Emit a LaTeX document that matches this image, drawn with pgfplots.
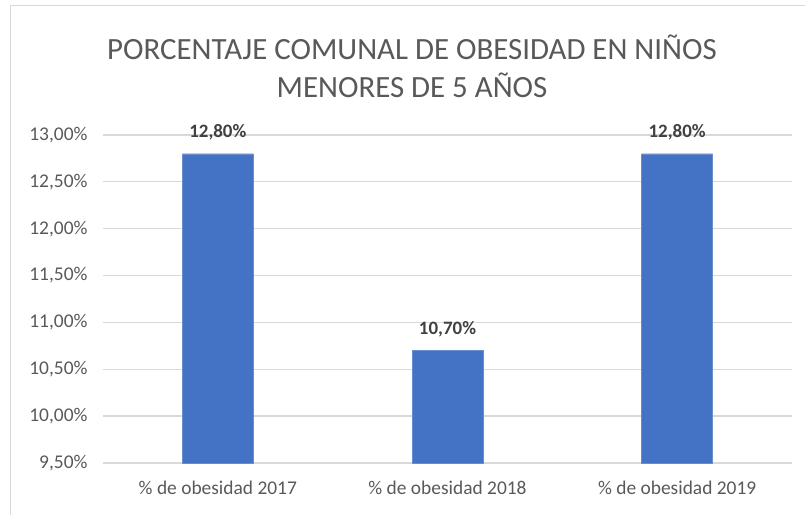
\documentclass[border=0pt]{standalone}
\usepackage{pgfplots}
\pgfplotsset{compat=1.18}
\usepackage{fontspec}
\setmainfont{Carlito}
\definecolor{barblue}{HTML}{4472C4}
\definecolor{txtgray}{HTML}{595959}
\definecolor{lblgray}{HTML}{404040}
\definecolor{gridgray}{HTML}{D9D9D9}
\begin{document}
\begin{tikzpicture}[x=1bp,y=1bp]
\useasboundingbox (0,0) rectangle (805,515);
\draw[gridgray, line width=1bp] (10.5,-10) -- (10.5,509.5) -- (815,509.5);
\node[text=txtgray, align=center, font=\fontsize{31}{38.5}\selectfont] at (412,449) {PORCENTAJE COMUNAL DE OBESIDAD EN NIÑOS\\MENORES DE 5 AÑOS};
\begin{axis}[
  at={(103bp,52bp)}, anchor=south west,
  scale only axis, width=689bp, height=328bp,
  xmin=-0.5, xmax=2.5, ymin=9.5, ymax=13,
  xtick=data,
  xticklabels={\% de obesidad 2017,\% de obesidad 2018,\% de obesidad 2019},
  ytick={9.5,10,10.5,11,11.5,12,12.5,13},
  yticklabel={\pgfmathprintnumber[fixed,fixed zerofill,precision=2,use comma]{\tick}\%},
  /pgf/number format/assume math mode=true,
  ymajorgrids, grid style={gridgray, line width=1.3bp},
  axis line style={draw=none},
  major tick length=0pt,
  tick label style={text=txtgray, font=\fontsize{19.5}{23}\selectfont},
  yticklabel style={xshift=-12bp},
  xticklabel style={yshift=-14bp},
  ybar, bar width=71bp, bar shift=0pt,
  nodes near coords={\pgfmathprintnumber[fixed,fixed zerofill,precision=2,use comma]{\pgfplotspointmeta}\%},
  nodes near coords style={text=lblgray, font=\fontsize{19}{22}\selectfont\bfseries, anchor=south, yshift=10bp},
  clip=false,
]
\addplot[fill=barblue, draw=barblue!80!white, restrict y to domain*=9.5:13] coordinates {(0,12.8) (1,10.7) (2,12.8)};
\end{axis}
\end{tikzpicture}
\end{document}
